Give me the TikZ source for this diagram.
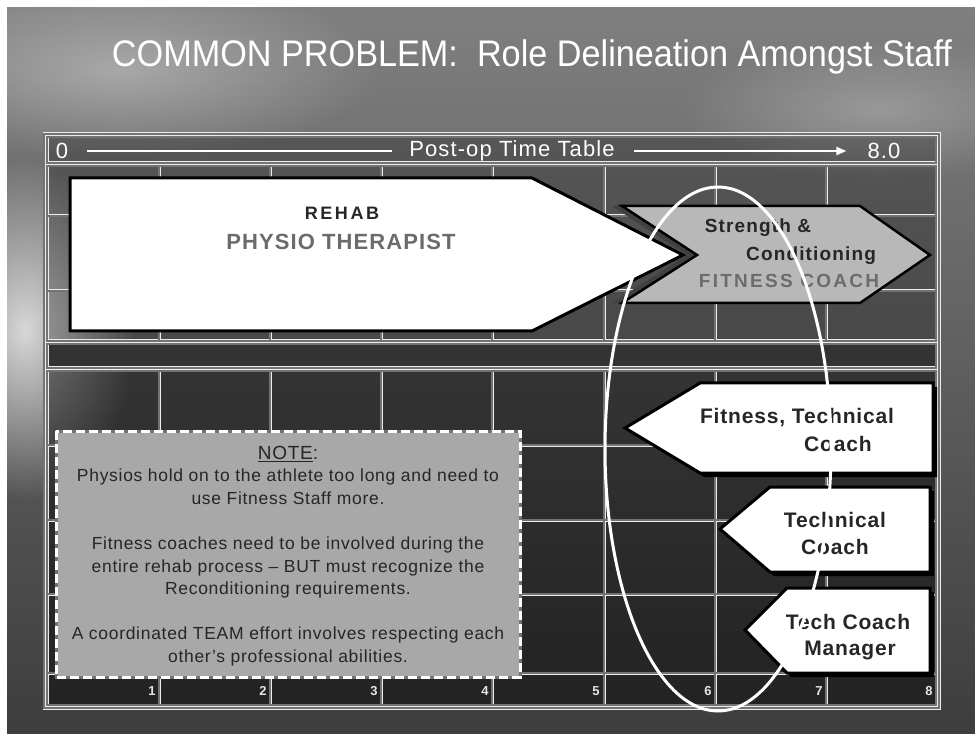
\documentclass[tikz,border=0pt]{standalone}
\usepackage{fontspec}
\setmainfont{Liberation Sans}
\usetikzlibrary{arrows.meta,fadings}

\definecolor{skytop}{gray}{0.50}
\definecolor{skymid}{gray}{0.40}
\definecolor{seadark}{gray}{0.24}
\definecolor{chevgray}{gray}{0.72}
\definecolor{notegray}{gray}{0.66}
\tikzfading[name=glowfade, inner color=transparent!0, outer color=transparent!100]

\tikzset{
  gridline/.style={draw=gray!15, double=black!55, double distance=1.4pt, line width=0.8pt},
  signbox/.style={fill=white, draw=black, line width=3pt, line join=miter},
  chevbox/.style={fill=chevgray, draw=black, line width=2.5pt, line join=miter},
  signtext/.style={font=\bfseries\fontsize{21}{23}\selectfont\addfontfeature{LetterSpace=4}, text=black!85, inner sep=0pt},
  chevtext/.style={font=\bfseries\fontsize{19}{21}\selectfont\addfontfeature{LetterSpace=6}, text=black!85, inner sep=0pt},
  bartext/.style={font=\fontsize{22}{24}\selectfont\addfontfeature{LetterSpace=5}, text=white, inner sep=2pt},
  barline/.style={draw=white, line width=2pt},
  numlabel/.style={font=\bfseries\fontsize{13}{15}\selectfont, text=white!90!black, inner sep=0pt},
}

\begin{document}
\begin{tikzpicture}[x=1pt,y=-1pt]
  \useasboundingbox (0,0) rectangle (975,735);
  % backdrop: sky and sea
  \fill[white] (0,0) rectangle (975,735);
  \shade[top color=skytop, middle color=skymid, bottom color=seadark] (7,8) rectangle (975,733);
  \fill[white, opacity=0.75, path fading=glowfade] (25,330) ellipse (110 and 170);
  \fill[white, opacity=0.35, path fading=glowfade] (120,70) ellipse (260 and 90);
  \fill[white, opacity=0.25, path fading=glowfade] (880,110) ellipse (200 and 70);

  % title
  \node[font=\fontsize{37}{42}\selectfont, text=white] (title) at (532,57)
    {\scalebox{0.925}[1]{COMMON PROBLEM:\ \ Role Delineation Amongst Staff}};

  % table
  \fill[black, opacity=0.25] (44,134) rectangle (939,708);
  \fill[black, opacity=0.25] (47,371) rectangle (936,705);
  \draw[gridline] (44,134) rectangle (939,708);
  \draw[gridline] (47,137) rectangle (936,163);
  \draw[gridline] (47,166) rectangle (936,341)
    (47,216) -- (936,216)
    (47,291) -- (936,291)
    (159,166) -- (159,341)
    (270,166) -- (270,341)
    (381,166) -- (381,341)
    (492,166) -- (492,341)
    (604,166) -- (604,341)
    (715,166) -- (715,341)
    (826,166) -- (826,341);
  \draw[gridline, fill=black!80] (47,344) rectangle (936,368);
  \draw[gridline] (47,371) rectangle (936,705)
    (47,445) -- (936,445)
    (47,520) -- (936,520)
    (47,594) -- (936,594)
    (47,673) -- (936,673)
    (159,371) -- (159,705)
    (270,371) -- (270,705)
    (381,371) -- (381,705)
    (492,371) -- (492,705)
    (604,371) -- (604,705)
    (715,371) -- (715,705)
    (826,371) -- (826,705);

  % time line
  \node[bartext] (start) at (62,151) {0};
  \node[bartext] (bartitle) at (512,151) {Post-op Time Table};
  \node[bartext] (finish) at (884,151) {8.0};
  \draw[barline, shorten <=17pt, shorten >=15pt] (start) -- (bartitle);
  \draw[barline, -{Triangle[length=10pt,width=8pt]}, shorten <=17pt, shorten >=19pt] (bartitle) -- (finish);

  \node[numlabel] (n1) at (152,691) {1};
  \node[numlabel] (n2) at (263,691) {2};
  \node[numlabel] (n3) at (374,691) {3};
  \node[numlabel] (n4) at (485,691) {4};
  \node[numlabel] (n5) at (596,691) {5};
  \node[numlabel] (n6) at (708,691) {6};
  \node[numlabel] (n7) at (819,691) {7};
  \node[numlabel] (n8) at (929,691) {8};

  % strength and conditioning chevron
  \fill[black!75] (612,206) -- (850,206) -- (920,255) -- (850,303) -- (612,303) -- (687,255) -- cycle;
  \draw[chevbox] (622,206) -- (860,206) -- (930,255) -- (860,303) -- (622,303) -- (697,255) -- cycle;
  \node[chevtext] (strength) at (758,228) {Strength \&};
  \node[chevtext] (cond) at (811,256) {Conditioning};
  \node[chevtext, font=\bfseries\fontsize{19}{21}\selectfont\addfontfeature{LetterSpace=12}, text=gray!85!black] (fitness) at (789,281) {FITNESS COACH};

  % rehab arrow
  \draw[signbox] (70,178) -- (532,178) -- (683,255) -- (532,331) -- (70,331) -- cycle;
  \node[signtext, font=\bfseries\fontsize{18}{20}\selectfont\addfontfeature{LetterSpace=14}] (rehab) at (342,213) {REHAB};
  \node[signtext, font=\bfseries\fontsize{22}{24}\selectfont\addfontfeature{LetterSpace=5}, text=black!58] (physio) at (341,242) {PHYSIO THERAPIST};

  % coach arrows
  \fill[black] (704,387) -- (937,387) -- (937,477) -- (704,477) -- (629,432) -- cycle;
  \draw[signbox] (700,383) -- (933,383) -- (933,473) -- (700,473) -- (625,428) -- cycle;
  \node[signtext] (fitline) at (797,418) {Fitness, Technical};
  \node[signtext] (fitcoach) at (838,444) {Coach};

  \fill[black] (774,491) -- (934,491) -- (934,576) -- (774,576) -- (724,533) -- cycle;
  \draw[signbox] (770,487) -- (930,487) -- (930,572) -- (770,572) -- (720,529) -- cycle;
  \node[signtext] (techline) at (835,520) {Technical};
  \node[signtext] (techcoach) at (835,547) {Coach};

  \fill[black] (791,592) -- (934,592) -- (934,677) -- (791,677) -- (749,634) -- cycle;
  \draw[signbox] (787,588) -- (930,588) -- (930,673) -- (787,673) -- (745,630) -- cycle;
  \node[signtext] (mgrline) at (848,622) {Tech Coach};
  \node[signtext] (manager) at (850,650) {Manager};

  % note
  \draw[black!55, line width=3pt, fill=notegray] (56,431) rectangle (520,677);
  \draw[white, line width=3pt, dash pattern=on 9pt off 4pt] (56,431) rectangle (520,677);
  \node[align=center, font=\fontsize{17.5}{22.6}\selectfont\addfontfeature{LetterSpace=4}, text=black!85] (note) at (288,556)
    {{\fontsize{19}{22.6}\selectfont\underline{NOTE}:}\\
     Physios hold on to the athlete too long and need to\\
     use Fitness Staff more.\\[22.6pt]
     Fitness coaches need to be involved during the\\
     entire rehab process -- BUT must recognize the\\
     Reconditioning requirements.\\[22.6pt]
     A coordinated TEAM effort involves respecting each\\
     other's professional abilities.};

  % overlap of roles
  \draw[white, line width=3pt] (718,449) ellipse (113 and 262);
\end{tikzpicture}
\end{document}
